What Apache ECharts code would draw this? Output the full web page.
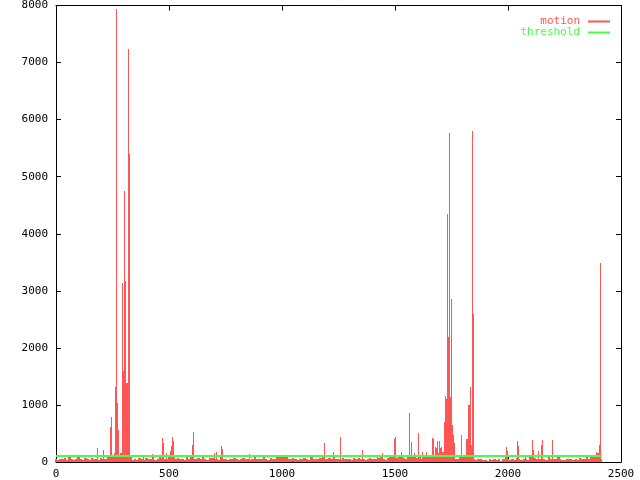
<!DOCTYPE html>
<html>
<head>
<meta charset="utf-8">
<script src="https://cdn.jsdelivr.net/npm/echarts@6/dist/echarts.min.js"></script>
<style>
html,body{margin:0;padding:0;background:#fff;}
#c{width:640px;height:480px;}
</style>
</head>
<body>
<div id="c"></div>
<script>
// x spacing of the baseline samples (data units)
const baseStep = 10;
// background motion level, one value per baseStep starting at x = 0
const motionBase = [
  45, 30, 60, 55, 70, 40, 95, 50, 35, 60,
  80, 55, 40, 65, 50, 30, 70, 60, 45, 40,
  75, 50, 60, 90, 110, 130, 150, 140, 110, 150,
  150, 160, 150, 80, 40, 55, 30, 65, 50, 40,
  70, 45, 60, 80, 35, 55, 90, 70, 60, 55,
  100, 90, 110, 60, 75, 45, 60, 35, 80, 50,
  90, 60, 50, 70, 45, 80, 55, 40, 65, 75,
  70, 60, 40, 80, 55, 45, 30, 50, 60, 70,
  50, 40, 60, 75, 45, 55, 35, 60, 90, 55,
  60, 45, 80, 55, 40, 70, 50, 60, 90, 100,
  100, 95, 80, 60, 45, 70, 55, 40, 60, 50,
  70, 55, 40, 80, 60, 50, 45, 65, 85, 60,
  60, 70, 45, 90, 60, 50, 40, 70, 55, 60,
  55, 40, 65, 50, 75, 45, 60, 40, 55, 70,
  50, 60, 45, 70, 80, 55, 40, 65, 90, 100,
  90, 70, 80, 100, 75, 60, 110, 90, 80, 100,
  70, 90, 60, 100, 80, 110, 120, 100, 130, 150,
  160, 170, 700, 1100, 1140, 650, 250, 60, 50, 80,
  130, 110, 400, 1000, 300, 60, 40, 55, 45, 30,
  40, 25, 50, 35, 60, 30, 45, 20, 55, 90,
  60, 40, 55, 30, 70, 45, 35, 60, 50, 40,
  90, 110, 70, 45, 60, 100, 55, 40, 80, 50,
  60, 45, 80, 50, 40, 35, 55, 45, 60, 30,
  50, 40, 70, 45, 60, 80, 55, 110, 130, 120,
  150, 60
];
// individual motion spikes: [frame, motion]
const motionSpikes = [
  [182,245],[208,216],[242,610],[246,790],[262,1310],[269,7945],[272,1030],[276,560],[280,120],
  [293,3130],[297,1600],[301,880],[305,4750],[309,3170],[313,1380],[316,1380],[320,7230],[324,5400],
  [386,128],[427,140],[470,420],[474,340],[490,150],[505,187],[513,280],[517,431],[522,373],
  [603,300],[607,525],[700,150],[708,175],[733,280],[736,230],[854,135],
  [1189,332],[1230,170],[1258,437],[1358,210],[1424,122],[1445,163],[1496,400],[1500,437],
  [1527,175],[1562,367],[1565,850],[1575,350],[1588,150],[1606,507],[1623,175],[1641,170],
  [1667,420],[1670,400],[1680,260],[1685,250],[1690,360],[1695,370],[1700,240],[1707,262],
  [1722,1155],[1726,705],[1732,4340],[1736,2190],[1739,1150],[1741,5760],[1745,1140],[1750,2850],
  [1754,650],[1757,470],[1762,245],[1765,340],[1793,472],
  [1820,160],[1824,500],[1827,700],[1831,1000],[1836,1320],[1842,5800],[1846,2590],[1849,160],
  [1994,268],[1998,198],[2041,361],[2045,285],[2076,120],[2110,386],[2114,211],[2137,200],
  [2148,297],[2153,385],[2198,385],[2228,130],[2390,175],[2404,300],[2410,3490]
];
const thresholdValue = 100;
const thresholdRange = [0, 2410];
const xTicks = { min: 0, max: 2500, interval: 500 };
const yTicks = { min: 0, max: 8000, interval: 1000 };

const RED = '#ff5555';
const GREEN = '#44ff44';
const FONT = 'DejaVu Sans Mono';

const baseData = motionBase.map((v, i) => [i * baseStep, v]);
const thresholdData = [[thresholdRange[0], thresholdRange[1], thresholdValue]];

function impulse(width) {
  return function (params, api) {
    const x = api.value(0), y = api.value(1);
    const p0 = api.coord([x, 0]);
    const p1 = api.coord([x, y]);
    const left = Math.round(p0[0] - width / 2);
    const right = Math.max(left + 1, Math.round(p0[0] + width / 2));
    const top = Math.round(p1[1]);
    const bottom = Math.round(p0[1]);
    return {
      type: 'rect',
      shape: { x: left, y: top, width: right - left, height: bottom - top },
      style: { fill: RED }
    };
  };
}

function hline(params, api) {
  const a = api.coord([api.value(0), api.value(2)]);
  const b = api.coord([api.value(1), api.value(2)]);
  const y = Math.round(a[1]) - 1;
  return {
    type: 'rect',
    shape: { x: Math.round(a[0]), y: y, width: Math.round(b[0]) - Math.round(a[0]) + 1, height: 2 },
    style: { fill: GREEN }
  };
}

const axisCommon = {
  axisLine: { show: true, onZero: false, lineStyle: { color: '#000', width: 1 } },
  axisTick: { show: true, inside: true, length: 5, lineStyle: { color: '#000' } },
  splitLine: { show: false },
  axisLabel: { color: '#000', fontFamily: FONT, fontSize: 11, formatter: v => String(v) }
};

const chart = echarts.init(document.getElementById('c'), null, { renderer: 'canvas' });
chart.setOption({
  animation: false,
  backgroundColor: '#fff',
  grid: { left: 56, right: 19, top: 5, bottom: 18, containLabel: false },
  legend: {
    orient: 'vertical',
    right: 25,
    top: 11,
    align: 'right',
    itemGap: 0,
    itemWidth: 22,
    itemHeight: 2,
    icon: 'rect',
    textStyle: { fontFamily: FONT, fontSize: 11, lineHeight: 11, padding: [0, 3, 0, 0] },
    data: [
      { name: 'motion', textStyle: { color: RED } },
      { name: 'threshold', textStyle: { color: GREEN } }
    ]
  },
  xAxis: [
    Object.assign({}, axisCommon, { type: 'value', position: 'bottom', min: xTicks.min, max: xTicks.max, interval: xTicks.interval,
      axisLabel: Object.assign({}, axisCommon.axisLabel, { margin: 7 }) }),
    Object.assign({}, axisCommon, { type: 'value', position: 'top', min: xTicks.min, max: xTicks.max, interval: xTicks.interval,
      axisLabel: { show: false } })
  ],
  yAxis: [
    Object.assign({}, axisCommon, { type: 'value', position: 'left', min: yTicks.min, max: yTicks.max, interval: yTicks.interval,
      axisLabel: Object.assign({}, axisCommon.axisLabel, { margin: 8 }) }),
    Object.assign({}, axisCommon, { type: 'value', position: 'right', min: yTicks.min, max: yTicks.max, interval: yTicks.interval,
      axisLabel: { show: false } })
  ],
  series: [
    { name: 'motion', type: 'custom', renderItem: impulse(2.3), data: baseData, itemStyle: { color: RED },
      encode: { x: 0, y: 1 }, z: 2 },
    { name: 'motion', type: 'custom', renderItem: impulse(1), data: motionSpikes, itemStyle: { color: RED },
      encode: { x: 0, y: 1 }, z: 2 },
    { name: 'threshold', type: 'custom', renderItem: hline, data: thresholdData, itemStyle: { color: GREEN },
      encode: { x: [0, 1], y: 2 }, z: 3 }
  ]
});
</script>
</body>
</html>
